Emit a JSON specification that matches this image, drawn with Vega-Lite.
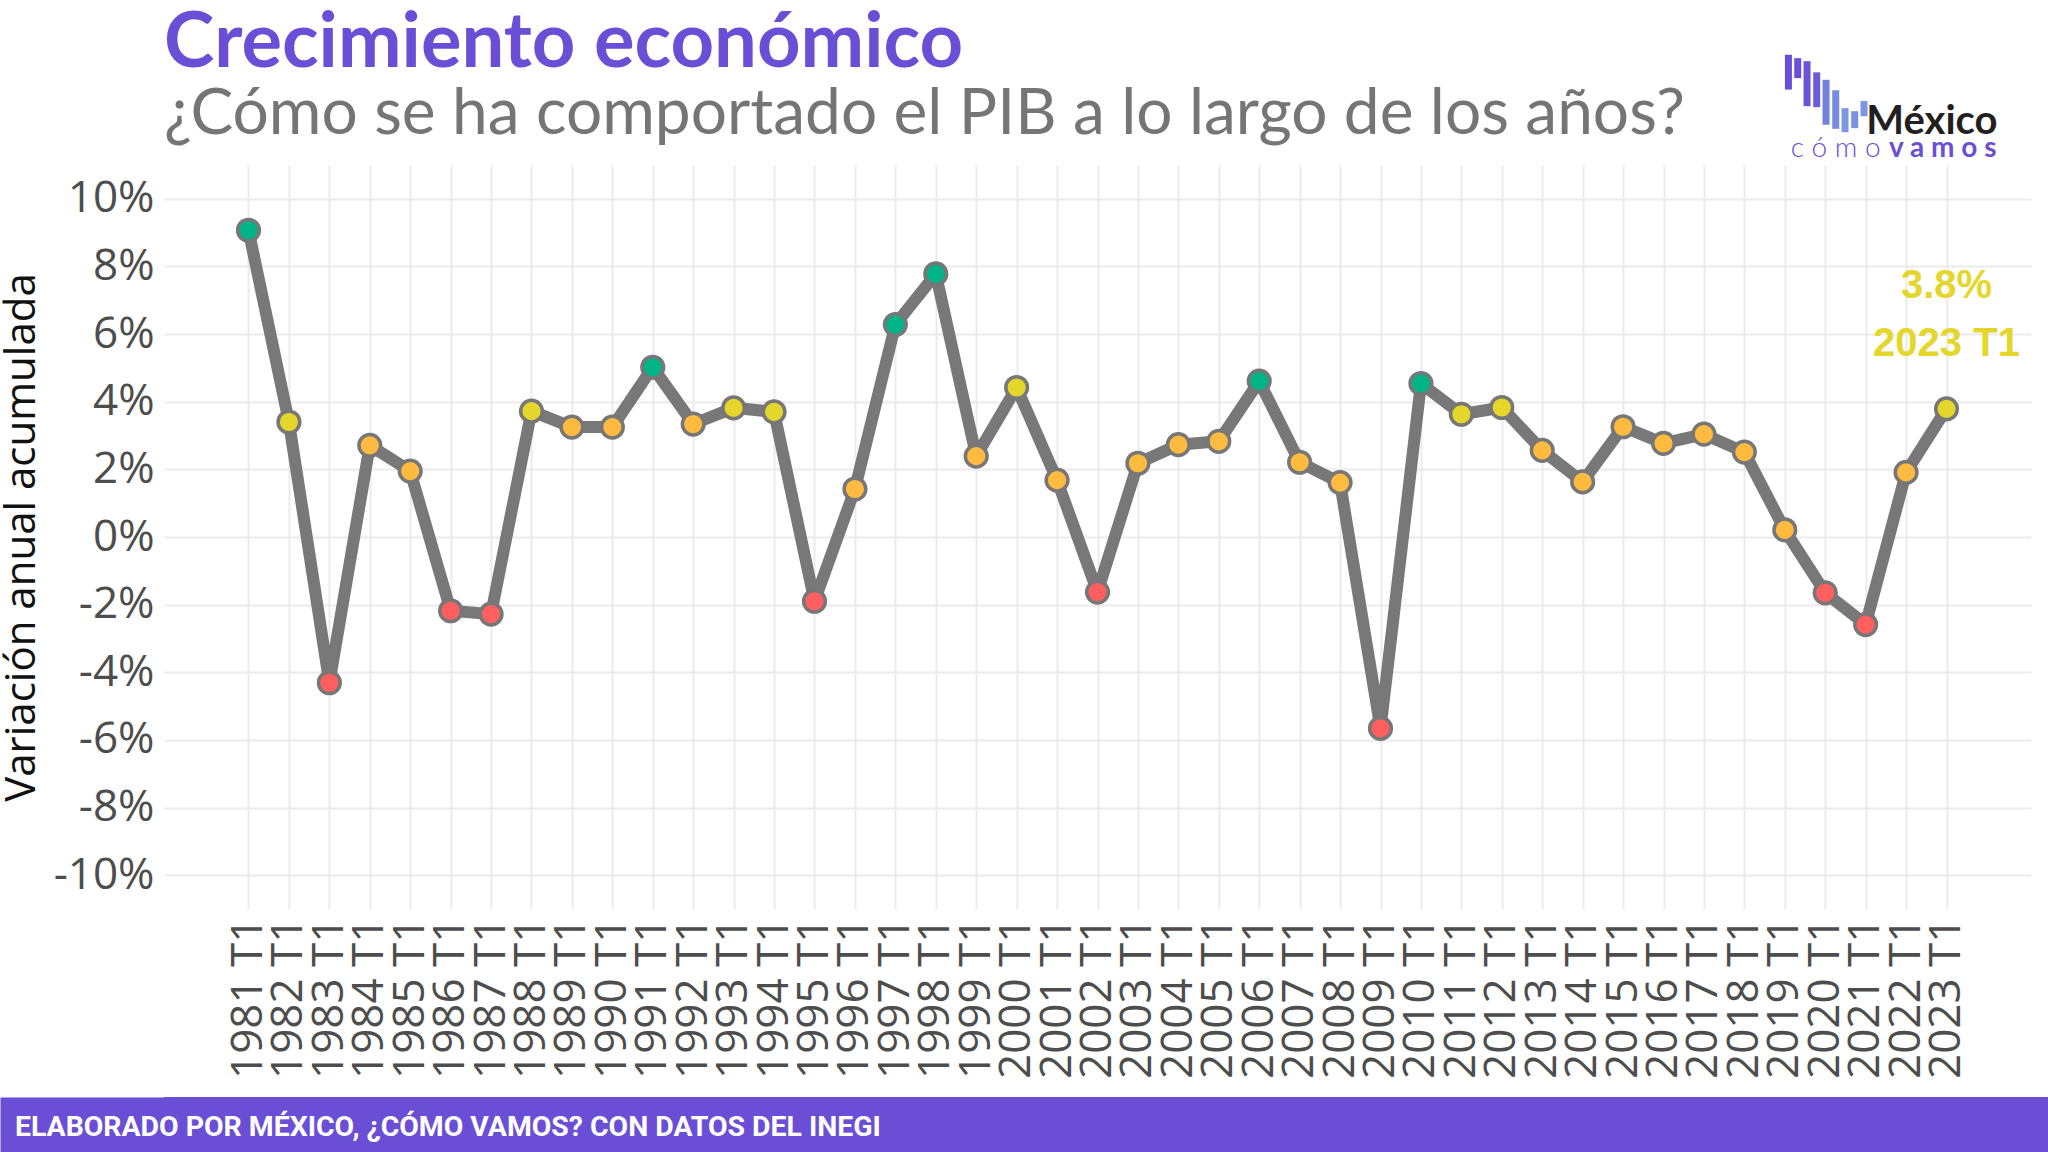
{
  "$schema": "https://vega.github.io/schema/vega-lite/v6.json",
  "padding": {"top": 6, "left": 0, "right": 0, "bottom": 0},
  "background": "white",
  "columns": 1,
  "spacing": 18,
  "config": {"view": {"stroke": null}, "font": "Open Sans"},
  "concat": [
    {
      "width": 1867,
      "height": 744,
      "title": {
        "text": "Crecimiento económico",
        "subtitle": "¿Cómo se ha comportado el PIB a lo largo de los años?",
        "anchor": "start",
        "frame": "group",
        "font": "Lato",
        "fontSize": 76,
        "fontWeight": "bold",
        "color": "#6A4FD6",
        "subtitleFont": "Lato",
        "subtitleFontSize": 64,
        "subtitleColor": "#757575",
        "subtitlePadding": 0,
        "offset": -97
      },
      "data": {"values": [
        {"year": 1981, "value": 9.07},
        {"year": 1982, "value": 3.40},
        {"year": 1983, "value": -4.31},
        {"year": 1984, "value": 2.71},
        {"year": 1985, "value": 1.95},
        {"year": 1986, "value": -2.18},
        {"year": 1987, "value": -2.28},
        {"year": 1988, "value": 3.72},
        {"year": 1989, "value": 3.25},
        {"year": 1990, "value": 3.25},
        {"year": 1991, "value": 5.02},
        {"year": 1992, "value": 3.34},
        {"year": 1993, "value": 3.82},
        {"year": 1994, "value": 3.70},
        {"year": 1995, "value": -1.90},
        {"year": 1996, "value": 1.42},
        {"year": 1997, "value": 6.28},
        {"year": 1998, "value": 7.78},
        {"year": 1999, "value": 2.39},
        {"year": 2000, "value": 4.42},
        {"year": 2001, "value": 1.68},
        {"year": 2002, "value": -1.63},
        {"year": 2003, "value": 2.18},
        {"year": 2004, "value": 2.73},
        {"year": 2005, "value": 2.83},
        {"year": 2006, "value": 4.61},
        {"year": 2007, "value": 2.21},
        {"year": 2008, "value": 1.61},
        {"year": 2009, "value": -5.66},
        {"year": 2010, "value": 4.54},
        {"year": 2011, "value": 3.63},
        {"year": 2012, "value": 3.83},
        {"year": 2013, "value": 2.56},
        {"year": 2014, "value": 1.63},
        {"year": 2015, "value": 3.26},
        {"year": 2016, "value": 2.77},
        {"year": 2017, "value": 3.04},
        {"year": 2018, "value": 2.51},
        {"year": 2019, "value": 0.21},
        {"year": 2020, "value": -1.65},
        {"year": 2021, "value": -2.59},
        {"year": 2022, "value": 1.91},
        {"year": 2023, "value": 3.79}
      ]},
      "encoding": {
        "x": {
          "field": "year", "type": "quantitative",
          "scale": {"domain": [1978.91, 2025.09], "nice": false, "zero": false},
          "axis": {
            "title": null, "labelAngle": -90, "labelFontSize": 44, "labelColor": "#4d4d4d",
            "labelFont": "Open Sans", "ticks": false, "domain": false, "labelPadding": 8,
            "labelExpr": "datum.value + ' T1'", "labelOverlap": false, "labelBound": false, "labelFlush": false,
            "values": [1981,1982,1983,1984,1985,1986,1987,1988,1989,1990,1991,1992,1993,1994,1995,1996,1997,1998,1999,2000,2001,2002,2003,2004,2005,2006,2007,2008,2009,2010,2011,2012,2013,2014,2015,2016,2017,2018,2019,2020,2021,2022,2023],
            "grid": true, "gridColor": "#ebebeb", "gridWidth": 2
          }
        },
        "y": {
          "field": "value", "type": "quantitative",
          "scale": {"domain": [-11, 11], "nice": false, "zero": false},
          "axis": {
            "title": "Variación anual acumulada", "titleFontSize": 42, "titleFont": "Open Sans",
            "titleFontWeight": "normal", "titleColor": "#111111", "titlePadding": 0,
            "minExtent": 121, "maxExtent": 121,
            "values": [-10, -8, -6, -4, -2, 0, 2, 4, 6, 8, 10],
            "labelExpr": "datum.value + '%'", "labelFontSize": 44, "labelColor": "#4d4d4d",
            "labelFont": "Open Sans", "labelPadding": 10, "ticks": false, "domain": false,
            "grid": true, "gridColor": "#ebebeb", "gridWidth": 2
          }
        }
      },
      "layer": [
        {
          "data": {"values": [{"z": 0}]},
          "mark": {"type": "rule", "color": "#777777", "strokeWidth": 2},
          "encoding": {"x": null, "y": {"datum": 0}}
        },
        {
          "mark": {"type": "line", "color": "#787878", "strokeWidth": 12, "strokeJoin": "round"}
        },
        {
          "mark": {"type": "point", "filled": true, "size": 470, "stroke": "#777777", "strokeWidth": 3.5, "opacity": 1},
          "encoding": {
            "color": {
              "field": "value", "type": "quantitative", "legend": null,
              "scale": {"type": "threshold", "domain": [0, 3.38, 4.5], "range": ["#FF5F5F", "#FFBB40", "#E5D62C", "#00B487"]}
            }
          }
        },
        {
          "transform": [{"filter": "datum.year === 2023"}],
          "mark": {"type": "text", "font": "Liberation Sans", "fontWeight": "bold", "fontSize": 40, "color": "#E5D62C", "dy": -123, "baseline": "middle"},
          "encoding": {"text": {"value": "3.8%"}}
        },
        {
          "transform": [{"filter": "datum.year === 2023"}],
          "mark": {"type": "text", "font": "Liberation Sans", "fontWeight": "bold", "fontSize": 40, "color": "#E5D62C", "dy": -65, "baseline": "middle"},
          "encoding": {"text": {"value": "2023 T1"}}
        },
        {
          "transform": [{"filter": "datum.year === 2023"}],
          "mark": {"type": "text", "font": "Lato", "fontWeight": "bold", "fontSize": 40, "color": "#231F20", "dy": -275, "dx": 51, "align": "right", "baseline": "alphabetic"},
          "encoding": {"text": {"value": "México"}}
        },
        {
          "transform": [{"filter": "datum.year === 2023"}],
          "mark": {"type": "text", "font": "Lato", "fontWeight": "bold", "fontSize": 28, "color": "#6A4FD6", "dy": -252, "dx": 50, "align": "right", "baseline": "alphabetic"},
          "encoding": {"text": {"value": "v a m o s"}}
        },
        {
          "transform": [{"filter": "datum.year === 2023"}],
          "mark": {"type": "text", "font": "Lato", "fontWeight": 300, "fontSize": 28, "color": "#6A4FD6", "dy": -252, "dx": -66, "align": "right", "baseline": "alphabetic"},
          "encoding": {"text": {"value": "c ó m o"}}
        },
        {"transform": [{"filter": "datum.year === 2023"}], "mark": {"type": "rule", "color": "#6A4FD8", "strokeWidth": 7, "strokeCap": "butt"},
         "encoding": {"x": {"datum": 2019.09, "type": "quantitative"}, "y": {"datum": 14.26, "type": "quantitative"}, "y2": {"datum": 13.23}}},
        {"transform": [{"filter": "datum.year === 2023"}], "mark": {"type": "rule", "color": "#6A50D8", "strokeWidth": 7, "strokeCap": "butt"},
         "encoding": {"x": {"datum": 2019.32, "type": "quantitative"}, "y": {"datum": 14.16, "type": "quantitative"}, "y2": {"datum": 13.57}}},
        {"transform": [{"filter": "datum.year === 2023"}], "mark": {"type": "rule", "color": "#6C54D9", "strokeWidth": 7, "strokeCap": "butt"},
         "encoding": {"x": {"datum": 2019.55, "type": "quantitative"}, "y": {"datum": 14.07, "type": "quantitative"}, "y2": {"datum": 12.74}}},
        {"transform": [{"filter": "datum.year === 2023"}], "mark": {"type": "rule", "color": "#6C5ADA", "strokeWidth": 7, "strokeCap": "butt"},
         "encoding": {"x": {"datum": 2019.79, "type": "quantitative"}, "y": {"datum": 13.74, "type": "quantitative"}, "y2": {"datum": 12.71}}},
        {"transform": [{"filter": "datum.year === 2023"}], "mark": {"type": "rule", "color": "#7480DE", "strokeWidth": 7, "strokeCap": "butt"},
         "encoding": {"x": {"datum": 2020.02, "type": "quantitative"}, "y": {"datum": 13.52, "type": "quantitative"}, "y2": {"datum": 12.19}}},
        {"transform": [{"filter": "datum.year === 2023"}], "mark": {"type": "rule", "color": "#788BDF", "strokeWidth": 7, "strokeCap": "butt"},
         "encoding": {"x": {"datum": 2020.26, "type": "quantitative"}, "y": {"datum": 13.21, "type": "quantitative"}, "y2": {"datum": 12.07}}},
        {"transform": [{"filter": "datum.year === 2023"}], "mark": {"type": "rule", "color": "#7C97E1", "strokeWidth": 7, "strokeCap": "butt"},
         "encoding": {"x": {"datum": 2020.49, "type": "quantitative"}, "y": {"datum": 12.68, "type": "quantitative"}, "y2": {"datum": 11.97}}},
        {"transform": [{"filter": "datum.year === 2023"}], "mark": {"type": "rule", "color": "#7A90E0", "strokeWidth": 7, "strokeCap": "butt"},
         "encoding": {"x": {"datum": 2020.73, "type": "quantitative"}, "y": {"datum": 12.59, "type": "quantitative"}, "y2": {"datum": 12.09}}},
        {"transform": [{"filter": "datum.year === 2023"}], "mark": {"type": "rule", "color": "#7B97E2", "strokeWidth": 7, "strokeCap": "butt"},
         "encoding": {"x": {"datum": 2020.96, "type": "quantitative"}, "y": {"datum": 12.89, "type": "quantitative"}, "y2": {"datum": 12.44}}}
      ]
    },
    {
      "width": 1884,
      "height": 58,
      "data": {"values": [{"k": 1}]},
      "layer": [
        {"mark": {"type": "rect", "color": "#6A4FD6"}},
        {
          "mark": {"type": "rule", "opacity": 0},
          "encoding": {
            "y": {
              "datum": 0.5, "type": "quantitative", "scale": {"domain": [0, 1]},
              "axis": {"domain": true, "domainWidth": 328, "domainColor": "#6A4FD6", "domainCap": "butt",
                       "labels": false, "ticks": false, "grid": false, "title": null}
            }
          }
        }
      ],
      "title": {
        "text": "ELABORADO POR MÉXICO, ¿CÓMO VAMOS? CON DATOS DEL INEGI",
        "orient": "bottom", "anchor": "start", "frame": "group", "offset": -41, "dx": -149,
        "color": "white", "font": "Roboto", "fontWeight": "bold", "fontSize": 28.4
      }
    }
  ]
}
